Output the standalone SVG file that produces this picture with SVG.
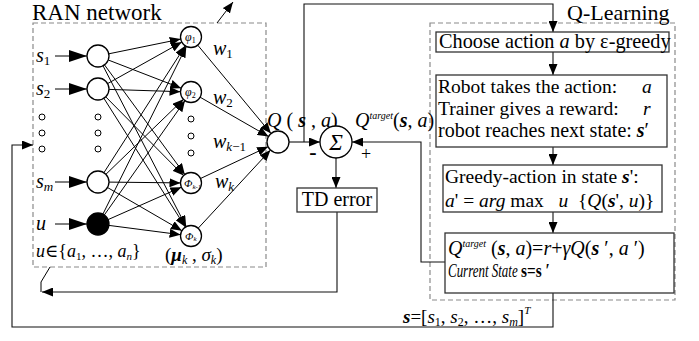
<svg xmlns="http://www.w3.org/2000/svg" width="699" height="341" viewBox="0 0 699 341" font-family="'Liberation Serif', Tinos, 'DejaVu Serif', serif">
  <style>
    text { font-family: 'Liberation Serif', Tinos, 'DejaVu Serif', serif; fill: #000; white-space: pre; }
    .it { font-style: italic; }
    .bi { font-style: italic; font-weight: bold; }
    .ln { stroke: #000; stroke-width: 1; fill: none; }
    .lk { stroke: #111; stroke-width: 1.1; fill: none; }
    .dash { stroke: #8a8a8a; stroke-width: 1.2; stroke-dasharray: 5 3; fill: none; }
    .node { fill: #fff; stroke: #000; stroke-width: 1.3; }
    .dot { fill: #fff; stroke: #000; stroke-width: 1; }
    .box { fill: #fff; stroke: #333; stroke-width: 1.3; }
    .ar { marker-end: url(#ah); }
    .arL { marker-end: url(#ahL); }
  </style>
  <defs>
    <marker id="ah" markerUnits="userSpaceOnUse" markerWidth="11" markerHeight="9" refX="11" refY="4.5" orient="auto">
      <path d="M0,0 L11,4.5 L0,9 z" fill="#000"/>
    </marker>
    <marker id="ahL" markerUnits="userSpaceOnUse" markerWidth="18" markerHeight="12" refX="18" refY="6" orient="auto">
      <path d="M0,0 L18,6 L0,12 z" fill="#000"/>
    </marker>
  </defs>

  <!-- frames -->
  <g id="ran-frame">
    <rect class="dash" x="33" y="23" width="233" height="244"/>
    <text x="32" y="20" font-size="23">RAN network</text>
  </g>
  <g id="qlearning-frame">
    <rect class="dash" x="430" y="23" width="245" height="277"/>
    <text x="567" y="19.5" font-size="22">Q-Learning</text>
  </g>

  <!-- connectors -->
  <g id="connectors">
    <!-- input arrows -->
    <line class="ln arL" x1="55" y1="56" x2="87" y2="56"/>
    <line class="ln arL" x1="55" y1="89" x2="87" y2="89"/>
    <line class="ln arL" x1="55" y1="182" x2="87" y2="182"/>
    <line class="ln arL" x1="55" y1="224" x2="87" y2="224"/>

    <!-- input layer to hidden layer -->
    <line class="ln ar" x1="108.8" y1="53.8" x2="180.7" y2="39.1"/>
    <line class="ln ar" x1="108.3" y1="60.0" x2="181.2" y2="88.2"/>
    <line class="ln ar" x1="104.5" y1="64.9" x2="184.8" y2="174.5"/>
    <line class="ln ar" x1="103.0" y1="65.8" x2="186.2" y2="226.7"/>

    <line class="ln ar" x1="107.6" y1="83.6" x2="181.8" y2="42.1"/>
    <line class="ln ar" x1="109" y1="89.4" x2="180.5" y2="91.7"/>
    <line class="ln ar" x1="105.7" y1="96.8" x2="183.6" y2="175.5"/>
    <line class="ln ar" x1="103.9" y1="98.3" x2="185.4" y2="227.1"/>

    <line class="ln ar" x1="103.9" y1="172.7" x2="185.3" y2="45.8"/>
    <line class="ln ar" x1="105.9" y1="174.3" x2="183.5" y2="99.3"/>
    <line class="ln ar" x1="109" y1="182.1" x2="180.5" y2="182.9"/>
    <line class="ln ar" x1="107.5" y1="187.5" x2="181.9" y2="230.7"/>

    <line class="ln ar" x1="102.9" y1="214.1" x2="186.3" y2="46.4"/>
    <line class="ln ar" x1="104.3" y1="215.0" x2="185.0" y2="100.6"/>
    <line class="ln ar" x1="108.1" y1="219.6" x2="181.4" y2="187.2"/>
    <line class="ln ar" x1="108.9" y1="225.4" x2="180.6" y2="234.7"/>

    <!-- hidden layer to output -->
    <line class="ln ar" x1="197.7" y1="45.1" x2="271.0" y2="133.5"/>
    <line class="ln ar" x1="200.1" y1="97.2" x2="268.5" y2="136.5"/>
    <line class="ln ar" x1="200.5" y1="178.5" x2="268.1" y2="146.7"/>
    <line class="ln ar" x1="198.1" y1="228.3" x2="270.5" y2="150.1"/>

    <!-- parameter update arrow -->
    <line class="ln ar" x1="217" y1="23" x2="233" y2="2"/>
    <polyline class="ln" points="50,267 41,282 41,292"/>

    <!-- output to summing junction and Q-learning -->
    <line class="lk ar" x1="289" y1="142" x2="320" y2="142"/>
    <polyline class="lk ar" points="304,142 304,4 553,4 553,32"/>
    <polyline class="lk ar" points="445,262 421,262 421,142 352,142"/>
    <line class="lk ar" x1="336" y1="158" x2="336" y2="188"/>

    <!-- TD error feedback -->
    <polyline class="lk ar" points="337,212 337,292 42,292"/>

    <!-- state feedback -->
    <polyline class="lk ar" points="553,293 553,327 12,327 12,145 33,145"/>

    <!-- Q-learning steps -->
    <line class="lk ar" x1="553" y1="52" x2="553" y2="75"/>
    <line class="lk ar" x1="553" y1="147" x2="553" y2="165"/>
    <line class="lk ar" x1="553" y1="212" x2="553" y2="233"/>
  </g>

  <!-- inputs -->
  <g id="in-s1">
    <text x="36" y="62" font-size="20" class="it">s<tspan font-size="13" font-style="normal" dy="3">1</tspan></text>
    <circle class="node" cx="98" cy="56" r="11"/>
  </g>
  <g id="in-s2">
    <text x="36" y="95" font-size="20" class="it">s<tspan font-size="13" font-style="normal" dy="3">2</tspan></text>
    <circle class="node" cx="98" cy="89" r="11"/>
  </g>
  <g id="in-dots">
    <circle class="dot" cx="42" cy="117" r="3"/>
    <circle class="dot" cx="42" cy="133" r="3"/>
    <circle class="dot" cx="42" cy="149" r="3"/>
    <circle class="dot" cx="98" cy="117" r="3"/>
    <circle class="dot" cx="98" cy="133" r="3"/>
    <circle class="dot" cx="98" cy="149" r="3"/>
  </g>
  <g id="in-sm">
    <text x="36" y="188" font-size="20" class="it">s<tspan font-size="13" dy="3">m</tspan></text>
    <circle class="node" cx="98" cy="182" r="11"/>
  </g>
  <g id="in-u">
    <text x="36" y="230" font-size="20" class="it">u</text>
    <circle cx="98" cy="224" r="11" fill="#000" stroke="#000" stroke-width="1.3"/>
    <text x="36" y="257" font-size="18"><tspan class="it">u</tspan>∈{<tspan class="it">a</tspan><tspan font-size="11" dy="3">1</tspan><tspan dy="-3">, …, </tspan><tspan class="it">a</tspan><tspan font-size="11" dy="3" class="it">n</tspan><tspan dy="-3">}</tspan></text>
  </g>

  <!-- hidden layer -->
  <g id="phi-1">
    <circle class="node" cx="191" cy="37" r="10.5"/>
    <text x="185" y="41" font-size="12" class="it">φ<tspan font-size="8" font-style="normal" dy="2">1</tspan></text>
    <text x="213" y="55" font-size="20" class="it">w<tspan font-size="13" font-style="normal" dy="3">1</tspan></text>
  </g>
  <g id="phi-2">
    <circle class="node" cx="191" cy="92" r="10.5"/>
    <text x="185" y="96" font-size="12" class="it">φ<tspan font-size="8" font-style="normal" dy="2">2</tspan></text>
    <text x="213" y="104" font-size="20" class="it">w<tspan font-size="13" font-style="normal" dy="3">2</tspan></text>
  </g>
  <g id="phi-dots">
    <circle class="dot" cx="191" cy="119" r="3"/>
    <circle class="dot" cx="191" cy="136" r="3"/>
    <circle class="dot" cx="191" cy="153" r="3"/>
    <text x="213" y="148" font-size="20" class="it">w<tspan font-size="13" dy="3">k</tspan><tspan font-size="13" font-style="normal">−1</tspan></text>
  </g>
  <g id="phi-k1">
    <circle class="node" cx="191" cy="183" r="10.5"/>
    <text x="184" y="187" font-size="11" class="it">Φ<tspan font-size="7" dy="2">k</tspan><tspan font-size="7" font-style="normal">-1</tspan></text>
    <text x="215" y="188" font-size="20" class="it">w<tspan font-size="13" dy="3">k</tspan></text>
  </g>
  <g id="phi-k">
    <circle class="node" cx="191" cy="236" r="10.5"/>
    <text x="185" y="239.5" font-size="11" class="it">Φ<tspan font-size="7" dy="1.5">k</tspan></text>
    <text x="165" y="261" font-size="19">(<tspan font-weight="bold" class="it">μ</tspan><tspan font-size="12" class="it" dy="3">k</tspan><tspan dy="-3"> , </tspan><tspan class="it">σ</tspan><tspan font-size="12" class="it" dy="3">k</tspan><tspan dy="-3">)</tspan></text>
  </g>

  <!-- output and summing junction -->
  <g id="q-node">
    <circle class="node" cx="278" cy="142" r="11"/>
    <text x="267" y="127" font-size="20"><tspan class="it">Q</tspan> ( <tspan class="bi">s</tspan> , <tspan class="it">a</tspan>)</text>
  </g>
  <g id="sum-node">
    <circle class="node" cx="336" cy="142" r="16"/>
    <text x="336" y="150" font-size="23" text-anchor="middle" class="it">Σ</text>
    <text x="313" y="159" font-size="22" font-weight="bold" text-anchor="middle">-</text>
    <text x="366" y="160" font-size="18" text-anchor="middle">+</text>
    <text x="355" y="127" font-size="20"><tspan class="it">Q</tspan><tspan font-size="10" class="it" dy="-8">target</tspan><tspan dy="8">(</tspan><tspan class="bi">s</tspan>, <tspan class="it">a</tspan>)</text>
  </g>
  <g id="td-error">
    <rect class="box" x="297" y="188" width="80" height="24"/>
    <text x="337" y="206" font-size="20" text-anchor="middle">TD error</text>
  </g>

  <!-- Q-learning steps -->
  <g id="step-choose">
    <rect class="box" x="436" y="32" width="233" height="20"/>
    <text x="439" y="48" font-size="20.3">Choose action <tspan class="it">a</tspan> by ε-greedy</text>
  </g>
  <g id="step-act">
    <rect class="box" x="436" y="75" width="231" height="72"/>
    <text x="438" y="93" font-size="19.5">Robot takes the action:</text>
    <text x="642" y="93" font-size="19.5" class="it">a</text>
    <text x="438" y="115" font-size="19.5">Trainer gives a reward:</text>
    <text x="643" y="115" font-size="19.5" class="it">r</text>
    <text x="438" y="137" font-size="20">robot reaches next state: <tspan class="bi">s</tspan>′</text>
  </g>
  <g id="step-greedy">
    <rect class="box" x="443" y="165" width="219" height="47"/>
    <text x="445" y="183" font-size="19.5">Greedy-action in state <tspan class="bi">s</tspan>':</text>
    <text x="445" y="207" font-size="19.5"><tspan class="it">a</tspan>' = <tspan class="it">arg</tspan> max   <tspan class="it">u</tspan>  {<tspan class="it">Q</tspan>(<tspan class="bi">s</tspan>', <tspan class="it">u</tspan>)}</text>
  </g>
  <g id="step-target">
    <rect class="box" x="445" y="233" width="229" height="60"/>
    <text x="448" y="255" font-size="20"><tspan class="it">Q</tspan><tspan font-size="10" class="it" dy="-8">target</tspan><tspan dy="8"> (</tspan><tspan class="bi">s</tspan>, <tspan class="it">a</tspan>)=<tspan class="it">r</tspan>+<tspan class="it">γQ</tspan>(<tspan class="bi">s</tspan> ′, <tspan class="it">a</tspan> ′)</text>
    <!-- condensed second line -->
    <text transform="translate(448,277) scale(0.72,1)" font-size="18" class="it">Current State</text>
    <text transform="translate(521,277) scale(0.85,1)" font-size="18" font-weight="bold">s=s ′</text>
  </g>

  <!-- state vector label -->
  <g id="state-label">
    <text x="403" y="323" font-size="19"><tspan class="bi">s</tspan>=[<tspan class="it">s</tspan><tspan font-size="12" dy="3">1</tspan><tspan dy="-3">, </tspan><tspan class="it">s</tspan><tspan font-size="12" dy="3">2</tspan><tspan dy="-3">, …, </tspan><tspan class="it">s</tspan><tspan font-size="12" class="it" dy="3">m</tspan><tspan dy="-3">]</tspan><tspan font-size="11" class="it" dy="-9">T</tspan></text>
  </g>
</svg>
